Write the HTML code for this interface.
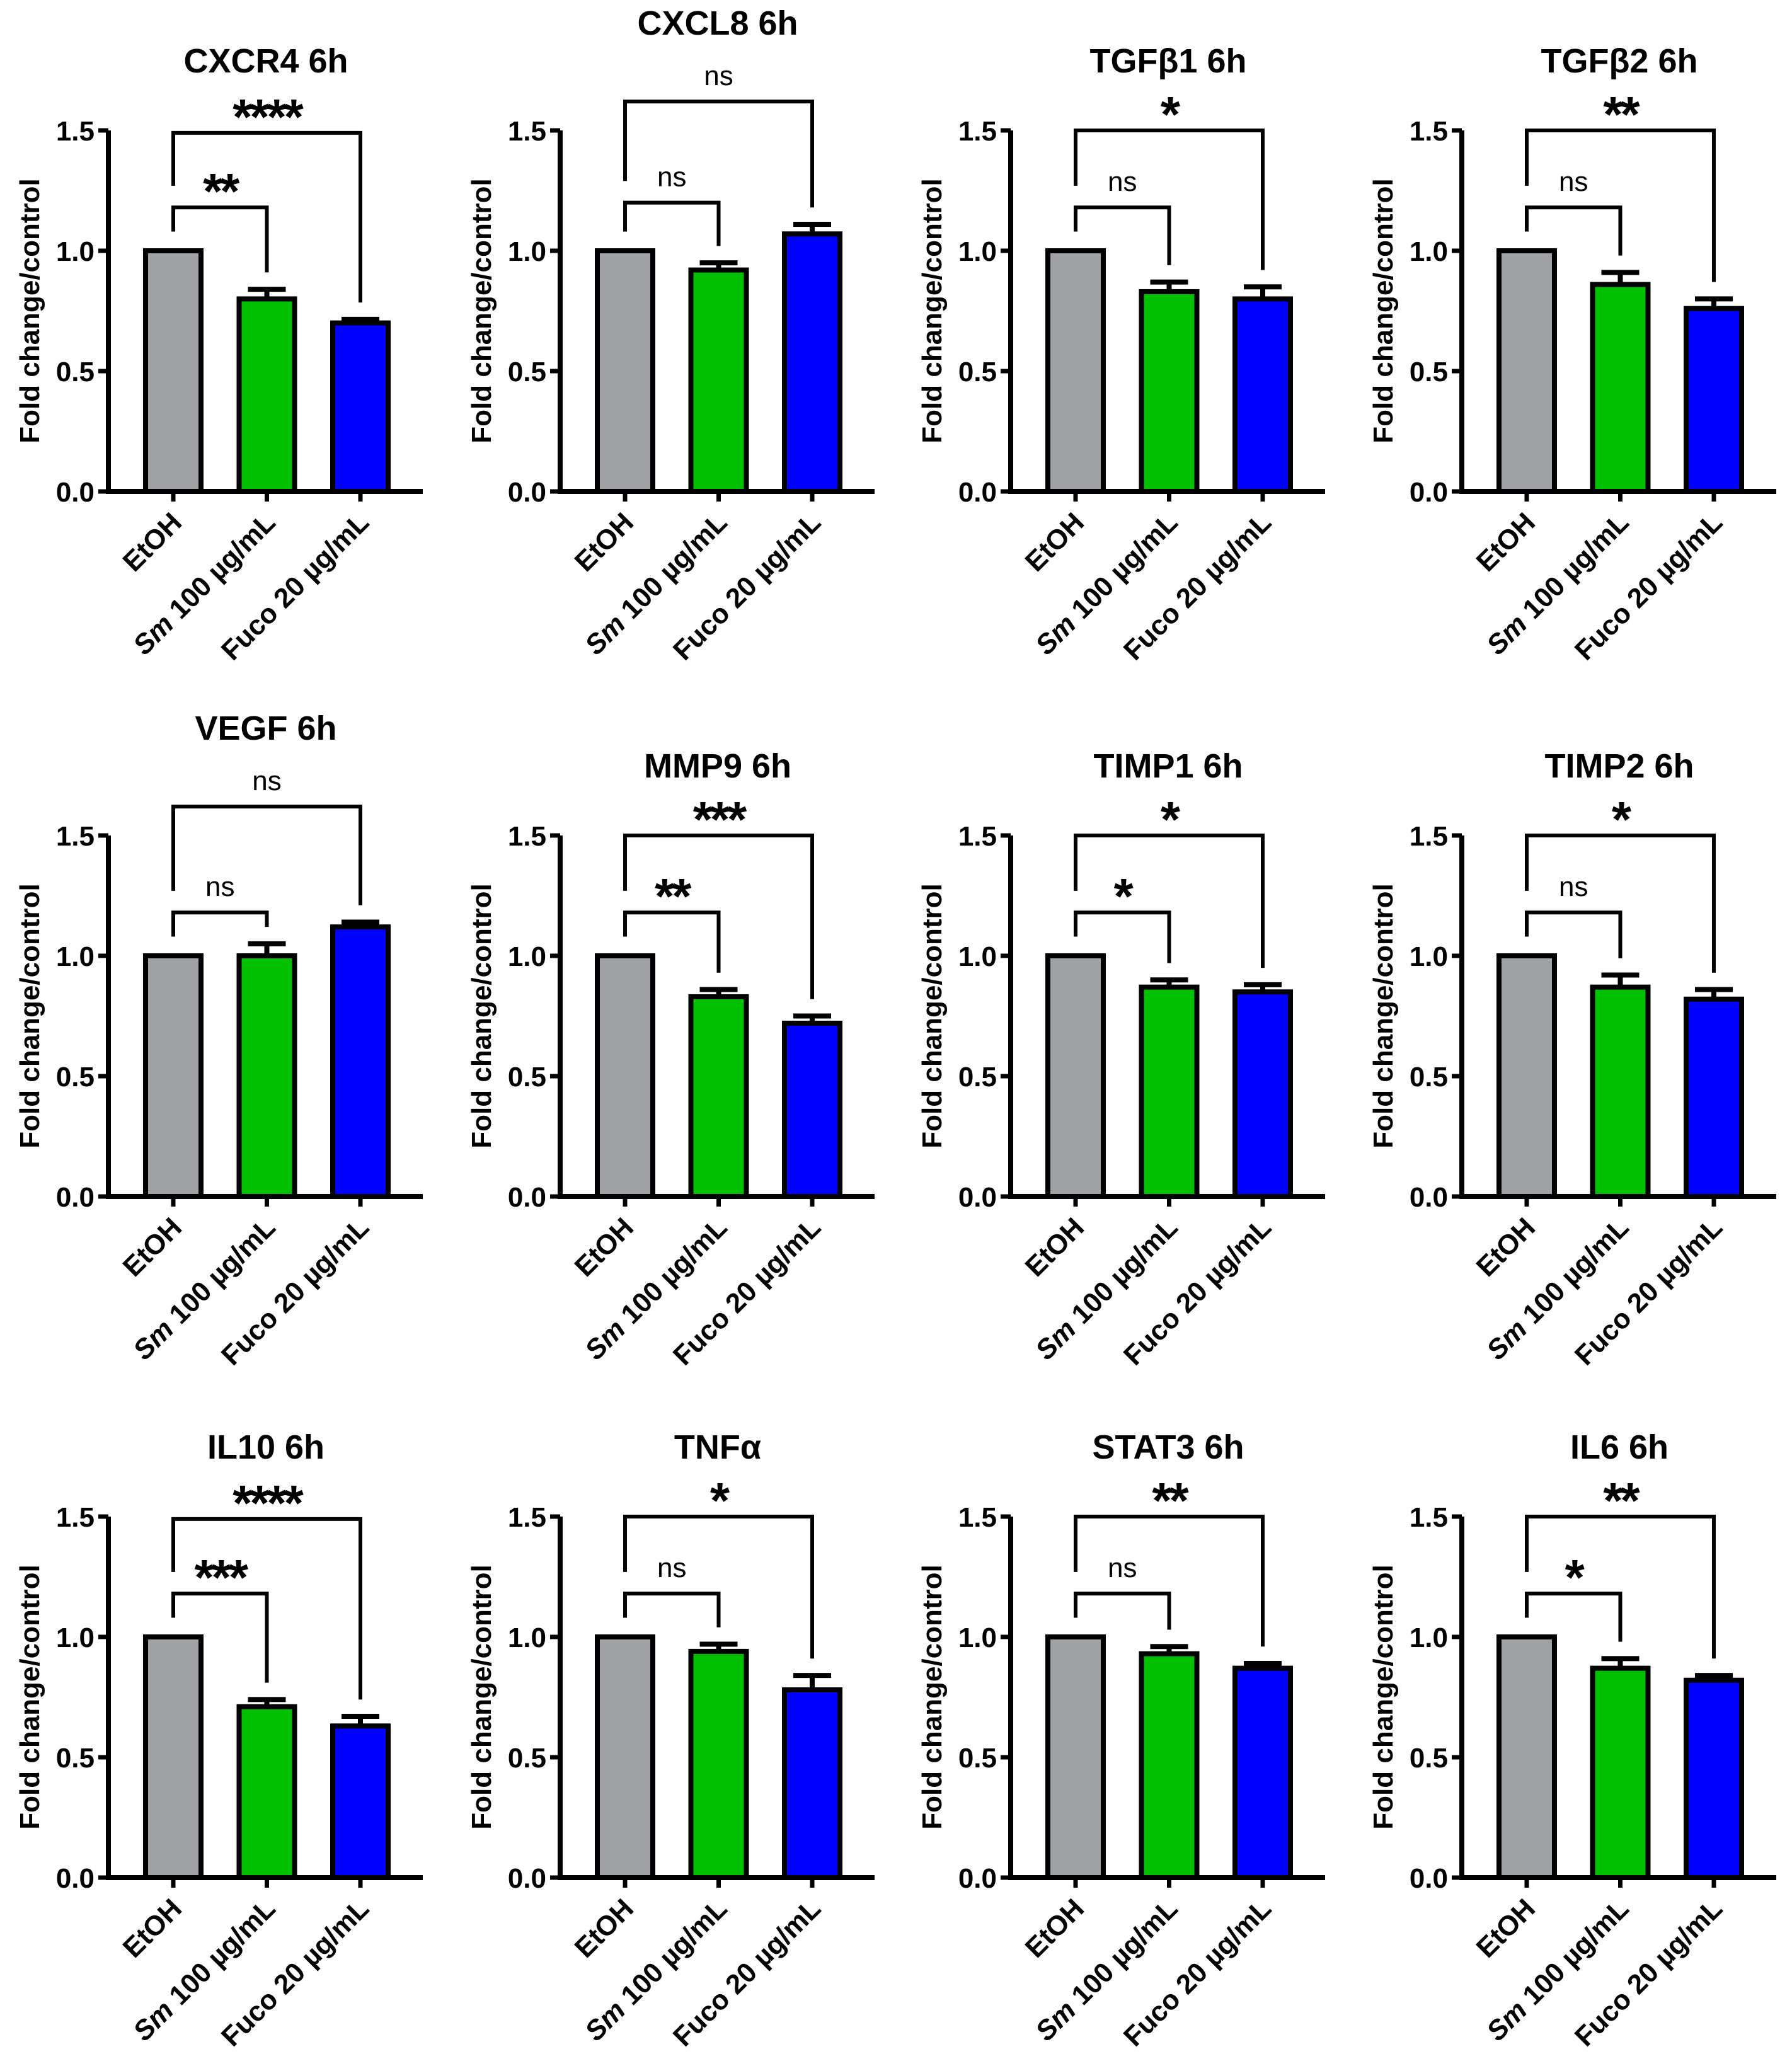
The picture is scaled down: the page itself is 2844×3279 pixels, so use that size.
<!DOCTYPE html>
<html><head><meta charset="utf-8"><style>
html,body{margin:0;padding:0;background:#fff;}
svg{display:block;}
text{font-family:"Liberation Sans",Arial,sans-serif;font-weight:bold;fill:#000;}
</style></head><body>
<svg id="fig" width="2844" height="3279" viewBox="0 0 2844 3279" xmlns="http://www.w3.org/2000/svg"></svg>
<script>
const titles = ["CXCR4 6h","CXCL8 6h","TGFβ1 6h","TGFβ2 6h","VEGF 6h","MMP9 6h","TIMP1 6h","TIMP2 6h","IL10 6h","TNFα","STAT3 6h","IL6 6h"];
const categories = ["EtOH","Sm 100 µg/mL","Fuco 20 µg/mL"];
const smValues = [0.80,0.92,0.83,0.86,1.00,0.83,0.87,0.87,0.71,0.94,0.93,0.87];
const smErrors = [0.04,0.03,0.04,0.05,0.05,0.03,0.03,0.05,0.03,0.03,0.03,0.04];
const fucoValues = [0.70,1.07,0.80,0.76,1.12,0.72,0.85,0.82,0.63,0.78,0.87,0.82];
const fucoErrors = [0.015,0.04,0.05,0.04,0.02,0.03,0.03,0.04,0.04,0.06,0.02,0.02];
const innerLabels = ["**","ns","ns","ns","ns","**","*","ns","***","ns","ns","*"];
const outerLabels = ["****","ns","*","**","ns","***","*","*","****","*","**","**"];
const innerY = [1.18,1.2,1.18,1.18,1.18,1.18,1.18,1.18,1.18,1.18,1.18,1.18];
const outerY = [1.49,1.62,1.5,1.5,1.62,1.5,1.5,1.5,1.49,1.5,1.5,1.5];
const yTicks = [0,0.5,1.0,1.5];
const yTickLabels = ["0.0","0.5","1.0","1.5"];

const svg = document.getElementById('fig');
const NS = 'http://www.w3.org/2000/svg';
const colX = [172,889,1604,2320];
const rowZero = [780,1899,2980];
const UNIT = 382;
const colors = ["#a0a1a5","#00c000","#0000ff"];
function mk(tag, attrs, parent){const e=document.createElementNS(NS,tag);for(const k in attrs)e.setAttribute(k,attrs[k]);(parent||svg).appendChild(e);return e;}

titles.forEach((t,i)=>{
  const ax = colX[i%4], y0 = rowZero[Math.floor(i/4)];
  const Y = v => y0 - v*UNIT;
  const X = j => ax + 103 + j*148.5;
  const g = mk('g',{});
  
  
  const titleY = outerY[i] > 1.55 ? Y(1.5)-171+19 : Y(1.5)-111+19;
  const tt = mk('text',{x:ax+250,y:titleY,'font-size':54,'text-anchor':'middle'},g);
  tt.textContent = t;
  
  
  const vals=[1,smValues[i],fucoValues[i]], errs=[0,smErrors[i],fucoErrors[i]];
  vals.forEach((v,j)=>{
    if(errs[j]>0){
      const el = mk('path',{d:`M${X(j)} ${Y(v)} V${Y(v+errs[j])} M${X(j)-30} ${Y(v+errs[j])} H${X(j)+30}`,stroke:'#000','stroke-width':8,fill:'none'},g);
      
      
    }
    const r = mk('rect',{x:X(j)-44,y:Y(v),width:88,height:v*UNIT,fill:colors[j],stroke:'#000','stroke-width':8},g);
    
    
  });
  const axl = mk('path',{d:`M${ax} ${Y(1.5)} V${y0} H${ax+499}`,stroke:'#000','stroke-width':8,fill:'none'},g);
  
  
  yTicks.forEach((v,k)=>{
    mk('line',{x1:ax-16,x2:ax,y1:Y(v),y2:Y(v),stroke:'#000','stroke-width':7},g);
    const tl = mk('text',{x:ax-22,y:Y(v)+16,'font-size':44,'text-anchor':'end'},g);
    tl.textContent = yTickLabels[k];
    
    
  });
  categories.forEach((c,j)=>{
    mk('line',{x1:X(j),x2:X(j),y1:y0,y2:y0+16,stroke:'#000','stroke-width':7},g);
    const cx = X(j)+16, cy = y0+52;
    const tl = mk('text',{x:cx,y:cy,'font-size':44,'text-anchor':'end',transform:`rotate(-45 ${cx} ${cy})`},g);
    if(j===1){ const s=mk('tspan',{'font-style':'italic'},tl); s.textContent='Sm'; tl.appendChild(document.createTextNode(' 100 µg/mL')); }
    else tl.textContent = c;
    
    
  });
  const yt = mk('text',{x:0,y:0,'font-size':44,'text-anchor':'middle',transform:`translate(${ax-110} ${Y(0.75)}) rotate(-90)`},g);
  yt.textContent = 'Fold change/control';
  
  
  [[1,innerY[i],innerLabels[i],1.08],[2,outerY[i],outerLabels[i],innerY[i]+0.09]].forEach(([j,by,lab,lb])=>{
    const rb = vals[j]+errs[j]+0.07;
    const b = mk('path',{d:`M${X(0)} ${Y(lb)} V${Y(by)} H${X(j)} V${Y(rb)}`,stroke:'#000','stroke-width':6,fill:'none'},g);
    
    
    const mid=(X(0)+X(j))/2;
    const lt = lab==='ns'
      ? mk('text',{x:mid,y:Y(by)-26,'font-size':44,'text-anchor':'middle'},g)
      : mk('text',{x:mid,y:Y(by)+2,'font-size':80,'text-anchor':'middle','letter-spacing':'-4'},g);
    if(lab==='ns') lt.style.fontWeight='normal';
    lt.textContent = lab;
    
    
  });
});
</script>
</body></html>
